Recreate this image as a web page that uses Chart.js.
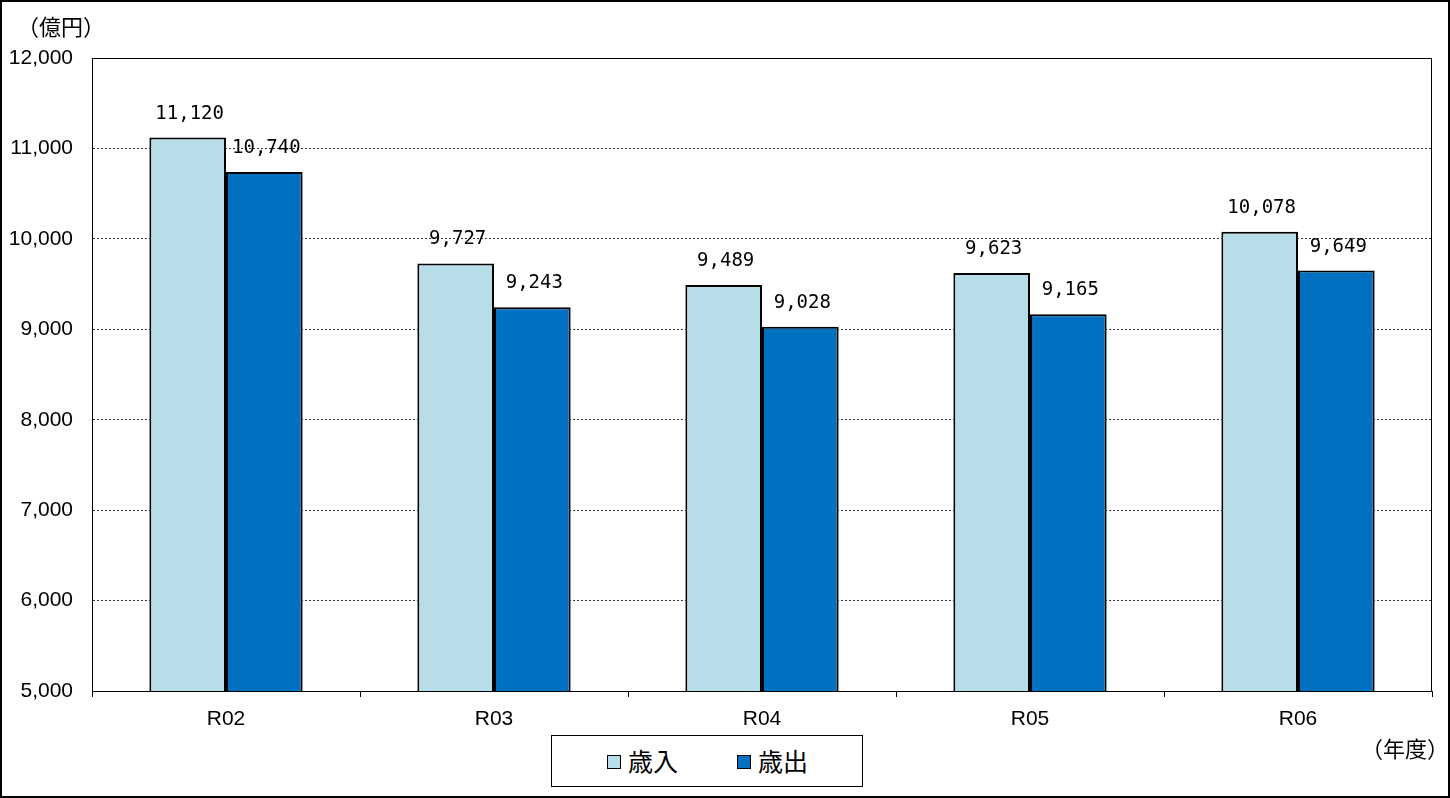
<!DOCTYPE html>
<html><head><meta charset="utf-8">
<script src="https://cdn.jsdelivr.net/npm/chart.js@4/dist/chart.umd.min.js"></script>
<style>
html,body{margin:0;padding:0;background:#fff;}
#wrap{position:relative;width:1450px;height:798px;}
#legend{position:absolute;left:551px;top:735px;width:310px;height:50px;border:1px solid #000;background:#fff;font-family:"Noto Sans CJK JP",sans-serif;font-size:25px;color:#000;}
.item{position:absolute;top:7px;line-height:34px;}
.sw{display:inline-block;width:12px;height:12px;border:1px solid #000;vertical-align:middle;margin-right:7px;position:relative;top:-2px;}
.t{position:absolute;font-family:"Noto Sans CJK JP",sans-serif;font-size:22px;color:#000;}
</style></head>
<body><div id="wrap">
<canvas id="c" width="1450" height="798"></canvas>
<div class="t" style="left:17px;top:9px;">（億円）</div>
<div class="t" style="left:1361px;top:731px;">（年度）</div>
<div id="legend">
<div class="item" style="left:55px;"><span class="sw" style="background:#B7DDE8"></span>歳入</div>
<div class="item" style="left:185px;"><span class="sw" style="background:#0070C0"></span>歳出</div>
</div>
</div>
<script>
const categories = ["R02","R03","R04","R05","R06"];
const revenue = [11120, 9727, 9489, 9623, 10078];
const expenditure = [10740, 9243, 9028, 9165, 9649];
const seriesNames = ["歳入","歳出"];
const yMin = 5000, yMax = 12000, yStep = 1000;

const frame = {
  id:'frame',
  afterDraw(chart){
    const {ctx, chartArea:a} = chart;
    ctx.save();
    ctx.strokeStyle='#000'; ctx.lineWidth=1;
    ctx.strokeRect(a.left+0.5, a.top+0.5, a.right-a.left-1, a.bottom-a.top);
    ctx.lineWidth=2;
    ctx.strokeRect(1,1,1448,796);
    ctx.fillStyle='#000';
    ctx.font='19px "DejaVu Sans Mono", monospace';
    ctx.textAlign='center'; ctx.textBaseline='middle';
    chart.data.datasets.forEach((ds,di)=>{
      chart.getDatasetMeta(di).data.forEach((el,i)=>{
        ctx.fillText(ds.data[i].toLocaleString('en-US'), el.x+2, el.y-24);
      });
    });
    ctx.restore();
  }
};

new Chart(document.getElementById('c'), {
  type:'bar',
  data:{
    labels:categories,
    datasets:[
      {label:seriesNames[0], data:revenue, backgroundColor:'#B7DDE8', borderColor:'#000', borderWidth:2},
      {label:seriesNames[1], data:expenditure, backgroundColor:'#0070C0', borderColor:'#000', borderWidth:2}
    ]
  },
  options:{
    responsive:false, animation:false,
    layout:{padding:{left:0,top:58,right:18,bottom:0}},
    datasets:{bar:{categoryPercentage:0.572, barPercentage:1}},
    plugins:{legend:{display:false}, tooltip:{enabled:false}},
    scales:{
      x:{
        grid:{offset:true, drawOnChartArea:false, drawTicks:true, tickLength:6, color:'#000'},
        border:{display:true,color:'#000',width:1},
        ticks:{color:'#000', font:{family:'"Liberation Sans", Arial', size:21}, padding:10},
        afterFit(s){ s.height = 107; }
      },
      y:{
        min:yMin, max:yMax,
        ticks:{stepSize:yStep, color:'#000', font:{family:'"Liberation Sans", Arial', size:21}, padding:19,
          callback:v=>v.toLocaleString('en-US')},
        grid:{color:'#333', lineWidth:1, drawTicks:false},
        border:{display:true,color:'#000',width:1,dash:[2,2]},
        afterFit(s){ s.width = 92; }
      }
    }
  },
  plugins:[frame]
});
</script>
</body></html>
